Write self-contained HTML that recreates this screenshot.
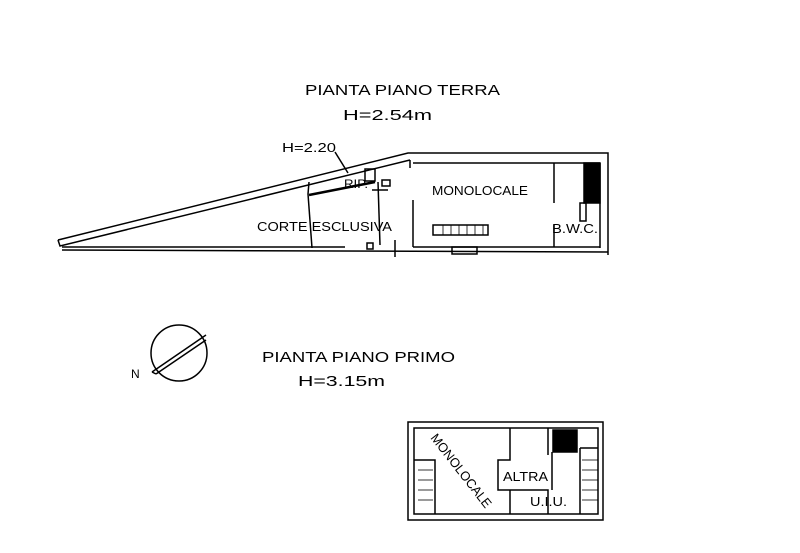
<!DOCTYPE html>
<html><head><style>
body{margin:0;background:#fff;}
svg{display:block}
text{font-family:"Liberation Sans",sans-serif;fill:#000}
</style></head><body>
<svg width="800" height="553" viewBox="0 0 800 553" xmlns="http://www.w3.org/2000/svg">
<g stroke="#000" fill="none" stroke-width="1.5">
<polyline points="58,240 408,153 608,153 608,255"/>
<polyline points="58,240 60,246 410,160"/>
<line x1="62" y1="250" x2="608" y2="252"/>
<line x1="62" y1="247" x2="345" y2="247"/>
<line x1="410" y1="160" x2="410" y2="168"/>
<line x1="413" y1="163" x2="600" y2="163"/>
<line x1="600" y1="163" x2="600" y2="248"/>
<line x1="413" y1="200" x2="413" y2="247"/>
<line x1="413" y1="247" x2="600" y2="247"/>
<polyline points="309,182 308,194"/>
<rect x="365" y="169" width="10" height="12"/>
<line x1="308" y1="194" x2="312" y2="248"/>
<line x1="309" y1="195" x2="375" y2="182" stroke-width="2.5"/>
<line x1="378" y1="182" x2="380" y2="245"/>
<line x1="335" y1="152" x2="348" y2="173"/>
<line x1="372" y1="190" x2="388" y2="190"/>
<line x1="395" y1="240" x2="395" y2="257"/>
<rect x="367" y="243" width="6" height="6"/>
<rect x="382" y="180" width="8" height="6"/>
<line x1="554" y1="163" x2="554" y2="203"/>
<line x1="554" y1="225" x2="554" y2="247"/>
<rect x="584" y="163" width="16" height="40" fill="#000"/>
<rect x="580" y="203" width="6" height="18"/>
<rect x="433" y="225" width="55" height="10"/>
<rect x="452" y="247" width="25" height="7"/>
</g>
<g stroke="#000" stroke-width="0.8">
<line x1="443" y1="225" x2="443" y2="235"/><line x1="451" y1="225" x2="451" y2="235"/><line x1="459" y1="225" x2="459" y2="235"/><line x1="467" y1="225" x2="467" y2="235"/><line x1="475" y1="225" x2="475" y2="235"/><line x1="483" y1="225" x2="483" y2="235"/>
</g>
<text x="305" y="95" font-size="15" textLength="195" lengthAdjust="spacingAndGlyphs">PIANTA  PIANO  TERRA</text>
<text x="343" y="120" font-size="15" textLength="89" lengthAdjust="spacingAndGlyphs">H=2.54m</text>
<text x="282" y="152" font-size="13" textLength="54" lengthAdjust="spacingAndGlyphs">H=2.20</text>
<text x="344" y="188" font-size="12" textLength="24" lengthAdjust="spacingAndGlyphs">RIP.</text>
<text x="432" y="195" font-size="13" textLength="96" lengthAdjust="spacingAndGlyphs">MONOLOCALE</text>
<text x="257" y="231" font-size="13" textLength="135" lengthAdjust="spacingAndGlyphs">CORTE ESCLUSIVA</text>
<text x="552" y="233" font-size="13" textLength="46" lengthAdjust="spacingAndGlyphs">B.W.C.</text>
<g stroke="#000" fill="none" stroke-width="1.5">
<circle cx="179" cy="353" r="28"/>
<line x1="152" y1="372" x2="206" y2="335"/>
<line x1="156" y1="374" x2="206" y2="340"/>
<line x1="152" y1="372" x2="156" y2="374"/>
</g>
<text x="131" y="378" font-size="12">N</text>
<text x="262" y="362" font-size="15" textLength="193" lengthAdjust="spacingAndGlyphs">PIANTA  PIANO  PRIMO</text>
<text x="298" y="386" font-size="15" textLength="87" lengthAdjust="spacingAndGlyphs">H=3.15m</text>
<g stroke="#000" fill="none" stroke-width="1.5">
<rect x="408" y="422" width="195" height="98"/>
<rect x="414" y="428" width="184" height="86"/>
<polyline points="414,460 435,460 435,514"/>
<polyline points="510,428 510,460 498,460 498,490 548,490 548,514"/>
<polyline points="548,428 548,455"/>
<line x1="510" y1="490" x2="510" y2="514"/>
<rect x="553" y="430" width="24" height="22" fill="#000"/>
<polyline points="552,452 552,490"/>
<polyline points="580,448 598,448"/>
<line x1="580" y1="448" x2="580" y2="514"/>
</g>
<g stroke="#000" stroke-width="0.8">
<line x1="582" y1="460" x2="598" y2="460"/><line x1="582" y1="470" x2="598" y2="470"/><line x1="582" y1="480" x2="598" y2="480"/><line x1="582" y1="490" x2="598" y2="490"/><line x1="582" y1="500" x2="598" y2="500"/>
<line x1="418" y1="470" x2="433" y2="470"/><line x1="418" y1="480" x2="433" y2="480"/><line x1="418" y1="490" x2="433" y2="490"/><line x1="418" y1="500" x2="433" y2="500"/>
</g>
<text x="0" y="0" font-size="13" textLength="90" lengthAdjust="spacingAndGlyphs" transform="translate(430,438) rotate(52)">MONOLOCALE</text>
<text x="503" y="481" font-size="13" textLength="45" lengthAdjust="spacingAndGlyphs">ALTRA</text>
<text x="530" y="506" font-size="13" textLength="37" lengthAdjust="spacingAndGlyphs">U.I.U.</text>
</svg>
</body></html>
